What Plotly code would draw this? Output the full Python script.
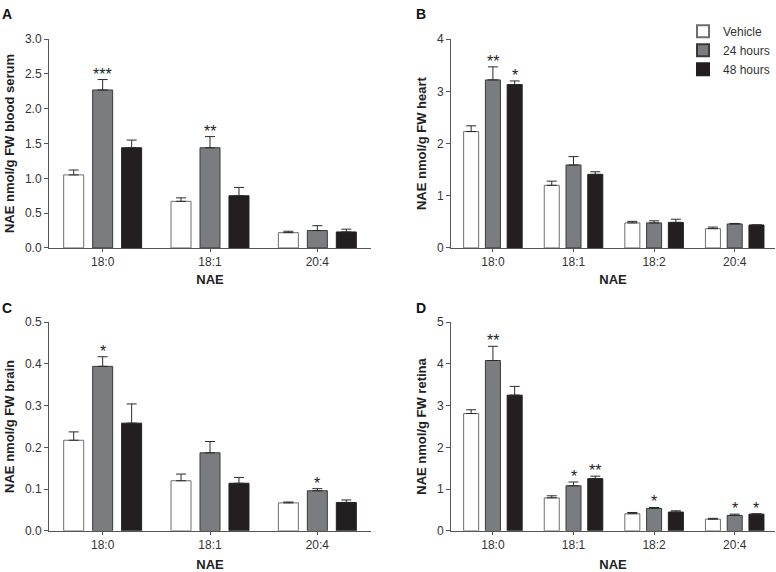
import plotly.graph_objects as go
from plotly.subplots import make_subplots

# ---------------- data ----------------
groups = ["Vehicle", "24 hours", "48 hours"]

cats_A = ["18:0", "18:1", "20:4"]
serum_vehicle = [1.05, 0.67, 0.22]
serum_24h = [2.27, 1.44, 0.25]
serum_48h = [1.44, 0.75, 0.23]
serum_err_vehicle = [0.07, 0.05, 0.02]
serum_err_24h = [0.15, 0.16, 0.07]
serum_err_48h = [0.11, 0.12, 0.04]
serum_sig = [["", "***", ""], ["", "**", ""], ["", "", ""]]

cats_B = ["18:0", "18:1", "18:2", "20:4"]
heart_vehicle = [2.23, 1.20, 0.48, 0.37]
heart_24h = [3.22, 1.59, 0.48, 0.46]
heart_48h = [3.13, 1.41, 0.49, 0.44]
heart_err_vehicle = [0.11, 0.08, 0.03, 0.03]
heart_err_24h = [0.25, 0.16, 0.04, 0.01]
heart_err_48h = [0.07, 0.05, 0.06, 0.0]
heart_sig = [["", "**", "*"], ["", "", ""], ["", "", ""], ["", "", ""]]

cats_C = ["18:0", "18:1", "20:4"]
brain_vehicle = [0.217, 0.120, 0.067]
brain_24h = [0.394, 0.187, 0.096]
brain_48h = [0.258, 0.114, 0.068]
brain_err_vehicle = [0.020, 0.016, 0.002]
brain_err_24h = [0.023, 0.027, 0.005]
brain_err_48h = [0.046, 0.014, 0.006]
brain_sig = [["", "*", ""], ["", "", ""], ["", "*", ""]]

cats_D = ["18:0", "18:1", "18:2", "20:4"]
retina_vehicle = [2.81, 0.79, 0.41, 0.28]
retina_24h = [4.08, 1.08, 0.54, 0.37]
retina_48h = [3.25, 1.25, 0.45, 0.40]
retina_err_vehicle = [0.09, 0.05, 0.03, 0.02]
retina_err_24h = [0.34, 0.09, 0.02, 0.03]
retina_err_48h = [0.21, 0.06, 0.03, 0.01]
retina_sig = [["", "**", ""], ["", "*", "**"], ["", "*", ""], ["", "*", "*"]]

# ---------------- style ----------------
bar_colors = ["#ffffff", "#7b7c80", "#231f20"]
line_colors = ["#6e6e6e", "#3a3a3a", "#231f20"]
axis_color = "#555555"
font_family = "Liberation Sans, Arial, sans-serif"
BARGAP = 0.19

fig = make_subplots(rows=2, cols=2)

panels = [
    dict(row=1, col=1, cats=cats_A,
         vals=[serum_vehicle, serum_24h, serum_48h],
         errs=[serum_err_vehicle, serum_err_24h, serum_err_48h],
         sig=serum_sig, ytitle="NAE nmol/g FW blood serum",
         yrange=[0, 3.0], dtick=0.5, fmt=".1f", xrange=[-0.5, 2.5]),
    dict(row=1, col=2, cats=cats_B,
         vals=[heart_vehicle, heart_24h, heart_48h],
         errs=[heart_err_vehicle, heart_err_24h, heart_err_48h],
         sig=heart_sig, ytitle="NAE nmol/g FW heart",
         yrange=[0, 4], dtick=1, fmt="d", xrange=[-0.52, 3.5]),
    dict(row=2, col=1, cats=cats_C,
         vals=[brain_vehicle, brain_24h, brain_48h],
         errs=[brain_err_vehicle, brain_err_24h, brain_err_48h],
         sig=brain_sig, ytitle="NAE nmol/g FW brain",
         yrange=[0, 0.5], dtick=0.1, fmt=".1f", xrange=[-0.5, 2.5]),
    dict(row=2, col=2, cats=cats_D,
         vals=[retina_vehicle, retina_24h, retina_48h],
         errs=[retina_err_vehicle, retina_err_24h, retina_err_48h],
         sig=retina_sig, ytitle="NAE nmol/g FW retina",
         yrange=[0, 5], dtick=1, fmt="d", xrange=[-0.52, 3.5]),
]

W, H = 776, 572
x_dom = {1: [49 / W, 371 / W], 2: [451 / W, 775 / W]}
y_dom = {1: [1 - 247 / H, 1 - 33 / H], 2: [1 - 537 / H, 1 - 323 / H]}
x_standoff = {1: 6, 2: 11}

annotations = []
slot = (1 - BARGAP) / 3
for p_i, p in enumerate(panels):
    r, c = p["row"], p["col"]
    axn = "" if p_i == 0 else str(p_i + 1)
    for g_i, g in enumerate(groups):
        fig.add_trace(go.Bar(
            x=p["cats"], y=p["vals"][g_i], name=g,
            legendgroup=g, showlegend=(p_i == 0),
            marker=dict(color=bar_colors[g_i],
                        line=dict(color=line_colors[g_i], width=1)),
            error_y=dict(type="data", symmetric=False,
                         array=p["errs"][g_i],
                         arrayminus=[0] * len(p["cats"]),
                         color="#2a2a2a", thickness=1, width=5),
        ), row=r, col=c)
    # significance markers
    for k, cat in enumerate(p["cats"]):
        for g_i in range(3):
            s = p["sig"][k][g_i]
            if s:
                top = p["vals"][g_i][k] + p["errs"][g_i][k]
                annotations.append(dict(
                    x=k + (g_i - 1) * slot, y=top,
                    xref="x" + axn, yref="y" + axn,
                    text=s, showarrow=False, yanchor="bottom",
                    yshift=-5,
                    font=dict(size=16, color="#222222", family=font_family)))
    fig.update_xaxes(
        domain=x_dom[c], range=p["xrange"], type="category",
        showline=True, linecolor=axis_color, linewidth=1,
        ticks="outside", ticklen=3, tickcolor=axis_color,
        showgrid=False, zeroline=False,
        tickfont=dict(size=12, color="#333333", family=font_family),
        title=dict(text="<b>NAE</b>", standoff=x_standoff[r],
                   font=dict(size=13, color="#222222", family=font_family)),
        row=r, col=c)
    fig.update_yaxes(
        domain=y_dom[r], range=p["yrange"], dtick=p["dtick"],
        tickformat=p["fmt"],
        showline=True, linecolor=axis_color, linewidth=1,
        ticks="outside", ticklen=4, tickcolor=axis_color,
        showgrid=False, zeroline=False,
        tickfont=dict(size=12, color="#333333", family=font_family),
        title=dict(text="<b>" + p["ytitle"] + "</b>", standoff=7,
                   font=dict(size=13, color="#222222", family=font_family)),
        row=r, col=c)

# panel letters
for letter, xp, yp in [("A", 0, -3), ("B", 414, -3), ("C", 0, 298), ("D", 414, 298)]:
    annotations.append(dict(
        x=xp / W, y=1 - yp / H, xref="paper", yref="paper",
        xanchor="left", yanchor="top", showarrow=False,
        text="<b>" + letter + "</b>",
        font=dict(size=14, color="#111111", family=font_family)))

fig.update_layout(
    width=W, height=H,
    margin=dict(l=0, r=0, t=0, b=0),
    paper_bgcolor="white", plot_bgcolor="white",
    barmode="group", bargap=BARGAP, bargroupgap=0.31,
    font=dict(family=font_family, color="#222222"),
    legend=dict(x=683 / W, y=1 - 10 / H, xanchor="left", yanchor="top",
                bgcolor="rgba(0,0,0,0)", borderwidth=0,
                font=dict(size=12, color="#333333", family=font_family),
                tracegroupgap=0, itemsizing="constant"),
    annotations=annotations,
)

fig.write_html("out.html", config={"staticPlot": True},
               post_script="document.body.style.margin='0';document.body.style.overflow='hidden';")
